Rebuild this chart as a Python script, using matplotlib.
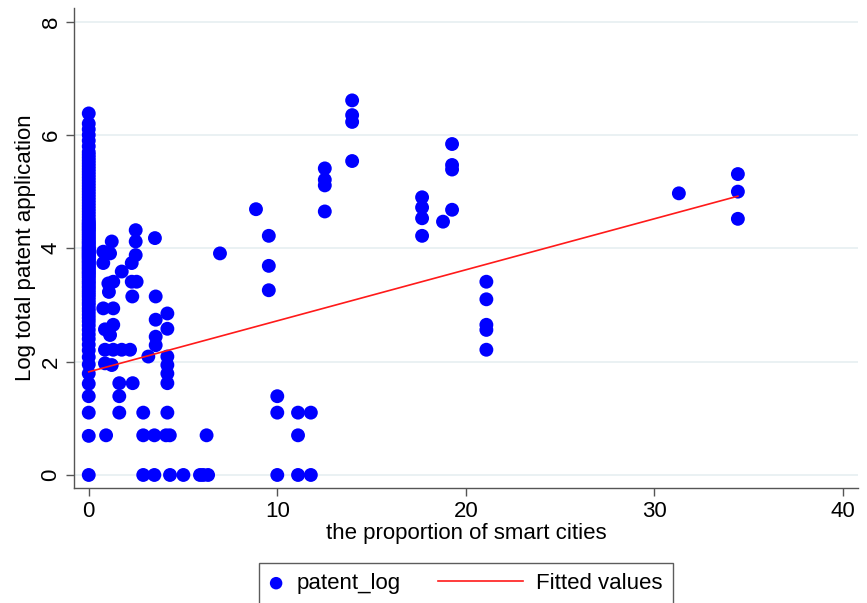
import matplotlib
matplotlib.use("Agg")
import matplotlib.pyplot as plt
from matplotlib.legend_handler import HandlerLine2D

plt.rcParams['font.family'] = ['Liberation Sans', 'DejaVu Sans']

# --- data ---
# cities with no smart-city share (x = 0): dense column of values
zero_y = [0, 0.69, 1.10, 1.39, 1.61, 1.79, 1.95, 2.08, 2.20, 2.30, 2.40, 2.48,
          2.56, 2.64, 2.71, 2.77, 2.83, 2.89, 2.94, 3.00, 3.04, 3.09, 3.14, 3.18,
          3.22, 3.26, 3.30, 3.33, 3.37, 3.40, 3.43, 3.47, 3.50, 3.53, 3.56, 3.58,
          3.61, 3.64, 3.66, 3.69, 3.71, 3.74, 3.76, 3.78, 3.81, 3.83, 3.85, 3.87,
          3.89, 3.91, 3.93, 3.95, 3.97, 3.99, 4.01, 4.03, 4.06, 4.09, 4.11, 4.14,
          4.17, 4.20, 4.23, 4.26, 4.29, 4.32, 4.34, 4.37, 4.39, 4.42, 4.44, 4.47,
          4.50, 4.55, 4.60, 4.65, 4.70, 4.75, 4.80, 4.85, 4.90, 4.95, 5.00, 5.05,
          5.10, 5.15, 5.20, 5.25, 5.30, 5.35, 5.40, 5.45, 5.50, 5.55, 5.60, 5.65,
          5.70, 5.80, 5.90, 6.00, 6.10, 6.20, 6.38]

other_x = [0.77, 1.22, 1.13, 0.77, 1.75, 1.30, 1.04, 1.07, 0.77, 1.30, 1.30, 0.86,
           1.13, 0.86, 1.30, 1.75, 2.19, 0.86, 1.22, 1.62, 2.33, 1.62, 1.62, 0.92,
           2.49, 2.49, 2.49, 2.28, 2.28, 2.54, 2.31,
           3.51, 3.55, 4.17, 3.55, 4.17, 3.55, 3.55, 3.16, 4.17, 4.17, 4.17, 4.17,
           2.89, 4.17, 2.89, 3.48, 4.10, 4.30, 6.25,
           2.89, 3.48, 4.31, 5.02, 5.90, 6.07, 6.33,
           6.96, 8.87, 9.55, 9.55, 9.55, 10.0, 10.0, 10.0,
           11.1, 11.78, 11.1, 11.1, 11.78,
           12.52, 12.52, 12.52, 12.52, 13.97, 13.97, 13.97, 13.97,
           17.68, 17.68, 17.68, 17.68, 18.79, 19.27, 19.27, 19.27, 19.27,
           21.09, 21.09, 21.09, 21.09, 21.09,
           31.3, 34.43, 34.43, 34.43]
other_y = [3.94, 4.12, 3.91, 3.74, 3.59, 3.41, 3.38, 3.23, 2.94, 2.94, 2.65, 2.57,
           2.47, 2.21, 2.21, 2.21, 2.21, 1.97, 1.94, 1.62, 1.62, 1.39, 1.10, 0.70,
           4.32, 4.12, 3.88, 3.74, 3.41, 3.41, 3.15,
           4.18, 3.15, 2.85, 2.74, 2.58, 2.44, 2.29, 2.09, 2.09, 1.94, 1.79, 1.62,
           1.10, 1.10, 0.70, 0.70, 0.70, 0.70, 0.70,
           0, 0, 0, 0, 0, 0, 0,
           3.91, 4.69, 4.22, 3.69, 3.26, 1.39, 1.10, 0,
           1.10, 1.10, 0.70, 0, 0,
           5.41, 5.21, 5.11, 4.65, 6.61, 6.35, 6.23, 5.54,
           4.90, 4.72, 4.53, 4.22, 4.47, 5.84, 5.47, 5.39, 4.68,
           3.41, 3.10, 2.65, 2.56, 2.21,
           4.97, 5.31, 5.00, 4.52]

fit_x = [0, 34.43]
fit_y = [1.82, 4.92]

x_ticks = [0, 10, 20, 30, 40]
y_ticks = [0, 2, 4, 6, 8]

scatter_x = [0] * len(zero_y) + other_x
scatter_y = zero_y + other_y

fs = 16


# the fitted-line key is much longer than the marker key
class LongLine(HandlerLine2D):
    def legend_artist(self, legend, orig_handle, fontsize, handlebox):
        handlebox.width = 61
        return super().legend_artist(legend, orig_handle, fontsize, handlebox)


fig = plt.figure(figsize=(8.67, 6.03), dpi=100)
ax = fig.add_axes([0.0854, 0.1907, 0.9042, 0.796])

pts = ax.scatter(scatter_x, scatter_y, s=100, color='#0000ff', edgecolors='none',
                 label='patent_log', zorder=3)
line, = ax.plot(fit_x, fit_y, color='#ff1a1a', lw=1.2, label='Fitted values', zorder=4)

ax.set_xlim(-0.78, 40.8)
ax.set_ylim(-0.23, 8.24)
ax.set_xticks(x_ticks)
ax.set_yticks(y_ticks)
ax.yaxis.grid(True, color='#e6eff1', lw=1.2, zorder=0)
ax.set_axisbelow(True)

for s in ['top', 'right']:
    ax.spines[s].set_visible(False)
for s in ['left', 'bottom']:
    ax.spines[s].set_color('#555555')
    ax.spines[s].set_linewidth(1.0)

ax.tick_params(axis='both', direction='out', length=6, width=1, color='#555555',
               labelsize=fs, pad=3)
for lbl in ax.get_yticklabels():
    lbl.set_rotation(90)
    lbl.set_va('center')

ax.set_xlabel('the proportion of smart cities', fontsize=fs, labelpad=1)
ax.set_ylabel('Log total patent application', fontsize=fs, labelpad=3)

leg = fig.legend(handles=[pts, line], loc='upper center',
                 bbox_to_anchor=(0.5375, 0.0663), ncol=2, fontsize=fs,
                 frameon=True, fancybox=False, edgecolor='#333333',
                 handlelength=0.6, handletextpad=0.6, columnspacing=1.7,
                 borderpad=0.45, borderaxespad=0, scatterpoints=1,
                 markerscale=0.9, handler_map={line: LongLine()})
leg.get_frame().set_linewidth(1.0)

fig.savefig('out.png', dpi=100)
